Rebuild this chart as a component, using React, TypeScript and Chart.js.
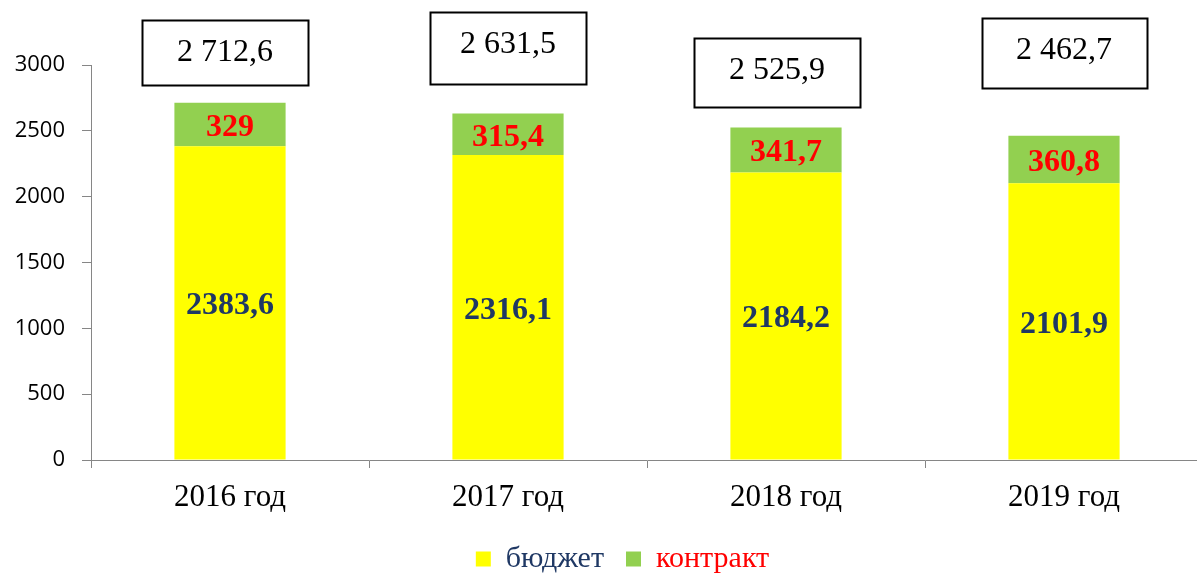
import React, { useEffect, useRef } from "react";
import { Chart, registerables } from "chart.js";

Chart.register(...registerables);

const categories = ["2016 год", "2017 год", "2018 год", "2019 год"];
const budget = [2383.6, 2316.1, 2184.2, 2101.9];
const contract = [329, 315.4, 341.7, 360.8];
const yTicks = [0, 500, 1000, 1500, 2000, 2500, 3000];
const seriesNames = ["бюджет", "контракт"];

// styles / annotation placement (not data)
const boxDx = [-5, 0, -9, 0];
const boxTop = [20, 12, 38, 18];
const boxW = [166, 156, 166, 165];
const boxH = [65, 72, 69, 70];
const PLOT_BOTTOM = 460;
const LEGEND_TEXT_Y = 559;
const LEGEND_SHIFT_X = 21;

const fmt = (v: number) => {
  const r = Math.round(v * 10) / 10;
  const [ip, dp] = r.toFixed(1).split(".");
  const intPart = ip.replace(/\B(?=(\d{3})+(?!\d))/g, " ");
  return dp === "0" ? intPart : intPart + "," + dp;
};
const fmtPlain = (v: number) => {
  const r = Math.round(v * 10) / 10;
  return Number.isInteger(r) ? String(r) : r.toFixed(1).replace(".", ",");
};

const legendMover = {
  id: "legendMover",
  afterLayout(chart: any) {
    const lg = chart.legend;
    if (!lg) return;
    const pad = lg.options.labels.padding;
    const fs = lg.options.labels.font.size;
    const desiredTop = LEGEND_TEXT_Y - pad - fs / 2;
    const dy = desiredTop - lg.top;
    lg.top += dy;
    lg.bottom += dy;
    lg.left += LEGEND_SHIFT_X;
    lg.right += LEGEND_SHIFT_X;
  },
};

const labelPlugin = {
  id: "labelPlugin",
  afterDatasetsDraw(chart: any) {
    const ctx = chart.ctx;
    ctx.save();
    const colors = ["#1F3864", "#FF0000"];
    chart.data.datasets.forEach((ds: any, di: number) => {
      const meta = chart.getDatasetMeta(di);
      meta.data.forEach((bar: any, i: number) => {
        const y = (bar.y + bar.base) / 2;
        ctx.font = "bold 32px 'Liberation Serif', 'Times New Roman', serif";
        ctx.fillStyle = colors[di];
        ctx.textAlign = "center";
        ctx.textBaseline = "middle";
        ctx.fillText(fmtPlain(ds.data[i]), bar.x, y + 3);
      });
    });
    const top = chart.getDatasetMeta(1);
    top.data.forEach((bar: any, i: number) => {
      const total = budget[i] + contract[i];
      const cx = bar.x + boxDx[i];
      const x0 = Math.round(cx - boxW[i] / 2) + 0.5;
      const y0 = boxTop[i] + 0.5;
      ctx.fillStyle = "#FFFFFF";
      ctx.fillRect(x0, y0, boxW[i], boxH[i]);
      ctx.strokeStyle = "#000000";
      ctx.lineWidth = 2;
      ctx.strokeRect(x0, y0, boxW[i], boxH[i]);
      ctx.font = "32px 'Liberation Serif', 'Times New Roman', serif";
      ctx.fillStyle = "#000000";
      ctx.textAlign = "center";
      ctx.textBaseline = "alphabetic";
      ctx.fillText(fmt(total), cx, boxTop[i] + 41);
    });
    ctx.restore();
  },
};

export default function App() {
  const ref = useRef<HTMLCanvasElement>(null);
  useEffect(() => {
    if (!ref.current) return;
    const chart = new Chart(ref.current, {
      type: "bar",
      data: {
        labels: categories,
        datasets: [
          {
            label: seriesNames[0],
            data: budget,
            backgroundColor: "#FFFF00",
            borderWidth: 0,
            categoryPercentage: 1,
            barPercentage: 0.4,
          },
          {
            label: seriesNames[1],
            data: contract,
            backgroundColor: "#92D050",
            borderWidth: 0,
            categoryPercentage: 1,
            barPercentage: 0.4,
          },
        ],
      },
      options: {
        responsive: false,
        animation: false,
        layout: { padding: { left: 0, right: 12, top: 65, bottom: 0 } },
        plugins: {
          tooltip: { enabled: false },
          legend: {
            position: "bottom",
            labels: {
              boxWidth: 15,
              boxHeight: 15,
              padding: 22,
              font: { family: "'Liberation Serif', 'Times New Roman', serif", size: 30, lineHeight: 1 },
              generateLabels: (ch: any) => {
                const items = Chart.defaults.plugins.legend.labels.generateLabels(ch);
                const cols = ["#1F3864", "#FF0000"];
                return items.map((it: any, i: number) => ({ ...it, fontColor: cols[i], lineWidth: 0 }));
              },
            },
          },
        },
        scales: {
          x: {
            stacked: true,
            offset: true,
            grid: { offset: true, drawOnChartArea: false, tickLength: 8, color: "#868686" },
            border: { color: "#868686", width: 1 },
            ticks: {
              color: "#000000",
              padding: 11,
              font: { family: "'Liberation Serif', 'Times New Roman', serif", size: 31 },
            },
            afterFit: (s: any) => {
              const lh = s.chart.legend ? s.chart.legend.height : 0;
              s.height = s.chart.height - PLOT_BOTTOM - lh;
            },
          },
          y: {
            stacked: true,
            min: 0,
            max: 3000,
            afterBuildTicks: (s: any) => {
              s.ticks = yTicks.map((v) => ({ value: v }));
            },
            grid: { drawOnChartArea: false, tickLength: 9, color: "#868686" },
            border: { color: "#868686", width: 1 },
            ticks: {
              color: "#000000",
              padding: 17,
              font: { family: "'Open Sans', Lato, 'Liberation Sans', sans-serif", size: 22 },
              callback: (v: any) => String(v),
            },
            afterFit: (s: any) => {
              s.width = 91;
            },
          },
        },
      },
      plugins: [labelPlugin, legendMover],
    });
    return () => chart.destroy();
  }, []);
  return (
    <div
      style={{
        position: "fixed",
        left: 0,
        top: 0,
        width: 1197,
        height: 574,
        overflow: "hidden",
        background: "#FFFFFF",
      }}
    >
      <canvas ref={ref} width={1215} height={574} style={{ display: "block" }} />
    </div>
  );
}
